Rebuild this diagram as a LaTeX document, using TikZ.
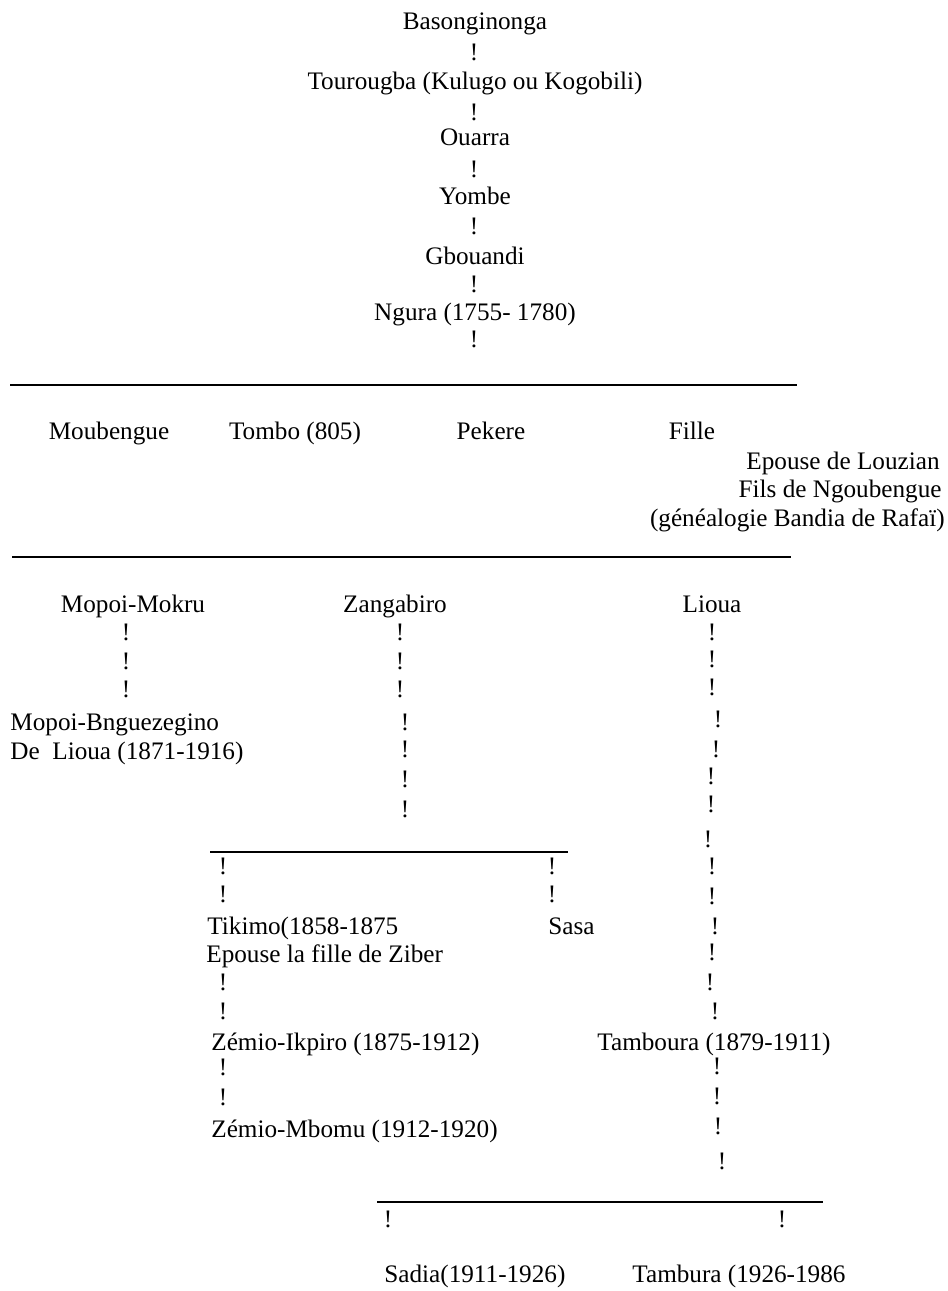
\documentclass[tikz,border=0pt]{standalone}
\usepackage{fontspec}
\setmainfont{Liberation Serif}
\usetikzlibrary{positioning}

\begin{document}
\begin{tikzpicture}[x=0.5pt,y=-0.5pt,
    person/.style={inner sep=0pt,anchor=base,font=\fontsize{12.6}{15}\selectfont},
    personl/.style={person,anchor=base west},
    personr/.style={person,anchor=base east},
    bang/.style={person},
    rule/.style={line width=0.9pt}]
\useasboundingbox (0,0) rectangle (948,1291);
%% ancestors
\begin{scope}
    \node[person] (baso) at (475,29) {Basonginonga};
    \node[bang] (b1) at (474,60) {!};
    \node[person] (tour) at (475,89) {Tourougba (Kulugo ou Kogobili)};
    \node[bang] (b2) at (474,120) {!};
    \node[person] (ouar) at (475,145) {Ouarra};
    \node[bang] (b3) at (474,177) {!};
    \node[person] (yomb) at (475,204) {Yombe};
    \node[bang] (b4) at (474,234) {!};
    \node[person] (gbou) at (475,264) {Gbouandi};
    \node[bang] (b5) at (474,292) {!};
    \node[person] (ngur) at (475,320) {Ngura (1755- 1780)};
    \node[bang] (b6) at (474,347) {!};
\end{scope}
%% children of Ngura
\coordinate (r1a) at (10,385);
\coordinate (r1b) at (797,385);
\path [rule] (r1a) edge (r1b);
\node[person] (moub) at (109,439) {Moubengue};
\node[person] (tomb) at (295,439) {Tombo (805)};
\node[person] (peke) at (491,439) {Pekere};
\node[person] (fill) at (692,439) {Fille};
\node[personr] (epou) at (940,469) {Epouse de Louzian};
\node[personr] (fils) at (942,497) {Fils de Ngoubengue};
\node[personr] (gene) at (945,526) {(généalogie Bandia de Rafaï)};
\coordinate (r2a) at (12,557);
\coordinate (r2b) at (791,557);
\path [rule] (r2a) edge (r2b);
%% next generation
\node[person] (mokr) at (133,612) {Mopoi-Mokru};
\foreach \y [count=\i] in {640,669,697}
    \node[bang] (mk\i) at (126,\y) {!};
\node[personl] (bngu) at (10,730) {Mopoi-Bnguezegino};
\node[personl] (deli) at (10,759) {De\ \ Lioua (1871-1916)};
\node[person] (zang) at (395,612) {Zangabiro};
\foreach \x/\y [count=\i] in {400/640,400/669,400/697,405/730,405/757,405/787,405/817}
    \node[bang] (zg\i) at (\x,\y) {!};
\node[person] (lioa) at (712,612) {Lioua};
\foreach \x/\y [count=\i] in {712/640,712/667,712/695,718/727,716/757,711/784,711/812,
        708/847,712/874,712/904,715/934,712/960,710/990,715/1019}
    \node[bang] (li\i) at (\x,\y) {!};
%% sons of Zangabiro
\coordinate (r3a) at (210,852);
\coordinate (r3b) at (568,852);
\path [rule] (r3a) edge (r3b);
\node[bang] (tk1) at (223,874) {!};
\node[bang] (tk2) at (223,902) {!};
\node[bang] (ss1) at (552,874) {!};
\node[bang] (ss2) at (552,902) {!};
\node[personl] (tiki) at (207,934) {Tikimo(1858-1875};
\node[personl] (ziba) at (206,962) {Epouse la fille de Ziber};
\node[personl] (sasa) at (548,934) {Sasa};
\node[bang] (tk3) at (223,990) {!};
\node[bang] (tk4) at (223,1019) {!};
\node[personl] (ikpi) at (211,1050) {Zémio-Ikpiro (1875-1912)};
\node[bang] (tk5) at (223,1075) {!};
\node[bang] (tk6) at (223,1105) {!};
\node[personl] (mbom) at (211,1137) {Zémio-Mbomu (1912-1920)};
\node[personl] (tamb) at (597,1050) {Tamboura (1879-1911)};
\foreach \x/\y [count=\i] in {717/1074,717/1104,718/1134,722/1169}
    \node[bang] (tb\i) at (\x,\y) {!};
%% sons of Tamboura
\coordinate (r4a) at (377,1202);
\coordinate (r4b) at (823,1202);
\path [rule] (r4a) edge (r4b);
\node[bang] (sd1) at (388,1227) {!};
\node[bang] (tu1) at (782,1227) {!};
\node[personl] (sadi) at (384,1282) {Sadia(1911-1926)};
\node[personl] (tamu) at (632,1282) {Tambura (1926-1986};
\end{tikzpicture}
\end{document}
